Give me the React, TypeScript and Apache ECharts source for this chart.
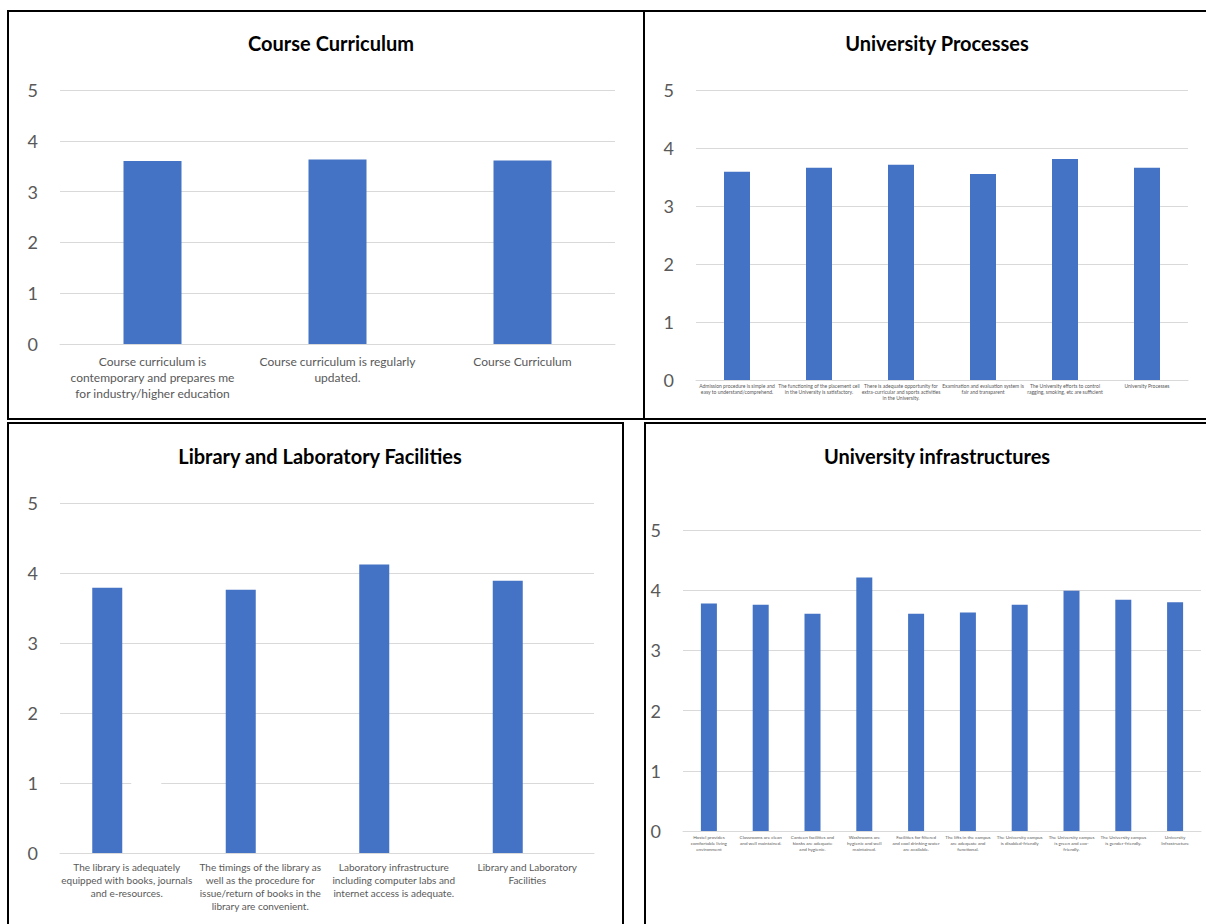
import React, { useEffect, useRef } from "react";
import * as echarts from "echarts";

const ccCategories = [
  "Course curriculum is\ncontemporary and prepares me\nfor industry/higher education",
  "Course curriculum is regularly\nupdated.",
  "Course Curriculum",
];
const ccValues = [3.6, 3.63, 3.61];

const upCategories = [
  "Admission procedure is simple and\neasy to understand/comprehend.",
  "The functioning of the placement cell\nin the University is satisfactory.",
  "There is adequate opportunity for\nextra-curricular and sports activities\nin the University.",
  "Examination and evaluation system is\nfair and transparent",
  "The University efforts to control\nragging, smoking, etc are sufficient",
  "University Processes",
];
const upValues = [3.59, 3.66, 3.71, 3.55, 3.81, 3.66];

const llCategories = [
  "The library is adequately\nequipped with books, journals\nand e-resources.",
  "The timings of the library as\nwell as the procedure for\nissue/return of books in the\nlibrary are convenient.",
  "Laboratory infrastructure\nincluding computer labs and\ninternet access is adequate.",
  "Library and Laboratory\nFacilities",
];
const llValues = [3.79, 3.76, 4.12, 3.89];
// second (white, hidden) series present in the original workbook
const llHiddenValues = [1.05, null, null, null];

const uiCategories = [
  "Hostel provides\ncomfortable living\nenvironment",
  "Classrooms are clean\nand well maintained.",
  "Canteen facilities and\nkiosks are adequate\nand hygienic.",
  "Washrooms are\nhygienic and well\nmaintained.",
  "Facilities for filtered\nand cool drinking water\nare available.",
  "The lifts in the campus\nare adequate and\nfunctional.",
  "The University campus\nis disabled-friendly",
  "The University campus\nis green and eco-\nfriendly.",
  "The University campus\nis gender-friendly.",
  "University\nInfrastructure",
];
const uiValues = [3.78, 3.76, 3.61, 4.21, 3.61, 3.63, 3.76, 3.99, 3.84, 3.8];

const yTicks = [0, 1, 2, 3, 4, 5];

const FONT = "Lato, 'Open Sans', sans-serif";
const BAR = "#4472C4";
const GRID = "#d9d9d9";
const LABEL = "#595959";

export default function App() {
  const ref = useRef<HTMLDivElement>(null);
  useEffect(() => {
    if (!ref.current) return;
    const chart = echarts.init(ref.current, null, { renderer: "svg" });

    const panels = [
      { title: "Course Curriculum", tx: 326, ty: 28, cats: ccCategories, vals: ccValues, grid: { left: 60, top: 90, width: 555, height: 254 }, yMargin: 22, barW: 58, xFont: 12, xLH: 16, xMargin: 9 },
      { title: "University Processes", tx: 932, ty: 28, cats: upCategories, vals: upValues, grid: { left: 696, top: 90, width: 492, height: 290 }, yMargin: 22, barW: 26, xFont: 5, xLH: 6, xMargin: 3 },
      { title: "Library and Laboratory Facilities", tx: 315, ty: 441, cats: llCategories, vals: llValues, grid: { left: 60, top: 503, width: 534, height: 350 }, yMargin: 22, barW: 30, xFont: 10, xLH: 13, xMargin: 7 },
      { title: "University infrastructures", tx: 932, ty: 441, cats: uiCategories, vals: uiValues, grid: { left: 683, top: 530, width: 518, height: 301 }, yMargin: 22, barW: 16, xFont: 4.6, xLH: 6, xMargin: 3 },
    ];

    const series: any[] = panels.map((p, i) => ({
      type: "bar",
      xAxisIndex: i,
      yAxisIndex: i,
      data: p.vals,
      barWidth: p.barW,
      barGap: i === 2 ? "30%" : undefined,
      itemStyle: { color: BAR },
    }));
    series.push({
      type: "bar",
      xAxisIndex: 2,
      yAxisIndex: 2,
      data: llHiddenValues,
      barWidth: 30,
      barGap: "30%",
      itemStyle: { color: "#ffffff" },
    });

    const option: any = {
      animation: false,
      backgroundColor: "#ffffff",
      title: panels.map((p) => ({
        text: p.title,
        left: p.tx,
        top: p.ty,
        textAlign: "center",
        textStyle: { fontFamily: FONT, fontSize: 20, fontWeight: "bold", color: "#000" },
      })),
      grid: panels.map((p) => ({ ...p.grid, containLabel: false })),
      xAxis: panels.map((p, i) => ({
        type: "category",
        gridIndex: i,
        data: p.cats,
        axisLine: { show: true, lineStyle: { color: GRID, width: 1 } },
        axisTick: { show: false },
        axisLabel: {
          interval: 0,
          fontFamily: FONT,
          fontSize: p.xFont,
          lineHeight: p.xLH,
          color: LABEL,
          margin: p.xMargin,
          align: "center",
        },
      })),
      yAxis: panels.map((p, i) => ({
        type: "value",
        gridIndex: i,
        min: yTicks[0],
        max: yTicks[yTicks.length - 1],
        interval: 1,
        axisLine: { show: false },
        axisTick: { show: false },
        splitLine: { lineStyle: { color: GRID, width: 1 } },
        axisLabel: { fontFamily: FONT, fontSize: 18, color: LABEL, margin: p.yMargin },
      })),
      series,
      graphic: [
        { type: "rect", z: 100, shape: { x: 8, y: 11, width: 636, height: 408 }, style: { fill: "none", stroke: "#000", lineWidth: 2 } },
        { type: "rect", z: 100, shape: { x: 644, y: 11, width: 620, height: 408 }, style: { fill: "none", stroke: "#000", lineWidth: 2 } },
        { type: "rect", z: 100, shape: { x: 8, y: 423, width: 615, height: 540 }, style: { fill: "none", stroke: "#000", lineWidth: 2 } },
        { type: "rect", z: 100, shape: { x: 645, y: 423, width: 620, height: 540 }, style: { fill: "none", stroke: "#000", lineWidth: 2 } },
      ],
    };
    chart.setOption(option);
    return () => chart.dispose();
  }, []);
  return (
    <div
      ref={ref}
      style={{ position: "fixed", left: 0, top: 0, width: 1206, height: 924 }}
    />
  );
}
